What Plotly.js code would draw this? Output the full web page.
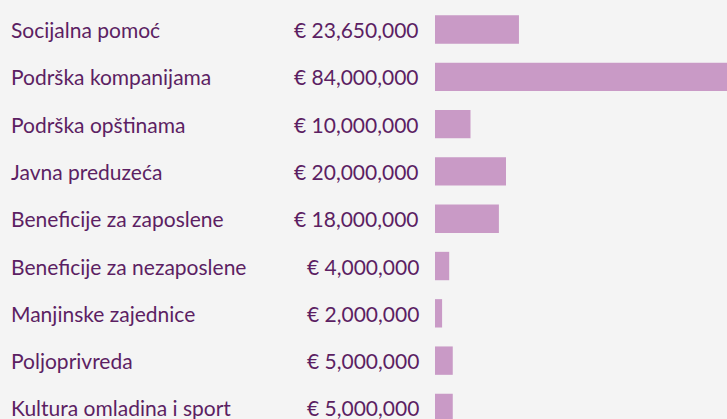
<!DOCTYPE html>
<html>
<head>
<meta charset="utf-8">
<script src="https://cdn.plot.ly/plotly-3.0.1.min.js"></script>
<style>
html,body{margin:0;padding:0;background:#f4f4f4;}
#chart{width:727px;height:419px;}
</style>
</head>
<body>
<div id="chart"></div>
<script>
const categories = [
  "Socijalna pomoć",
  "Podrška kompanijama",
  "Podrška opštinama",
  "Javna preduzeća",
  "Beneficije za zaposlene",
  "Beneficije za nezaposlene",
  "Manjinske zajednice",
  "Poljoprivreda",
  "Kultura omladina i sport"
];
const values = [23650000, 84000000, 10000000, 20000000, 18000000, 4000000, 2000000, 5000000, 5000000];
const valueLabels = ["€ 23,650,000", "€ 84,000,000", "€ 10,000,000", "€ 20,000,000", "€ 18,000,000", "€ 4,000,000", "€ 2,000,000", "€ 5,000,000", "€ 5,000,000"];

const textColor = "#5c1f63";
const font = "Lato, 'Open Sans', sans-serif";

const trace = {
  type: "bar",
  orientation: "h",
  x: values,
  y: categories,
  width: 0.6,
  marker: {color: "#c99ac6"},
  hoverinfo: "none"
};

const annotations = [];
categories.forEach((c, i) => {
  annotations.push({
    xref: "paper", yref: "y", x: 9/727, y: c, xanchor: "left", yanchor: "middle",
    text: c, showarrow: false, font: {family: font, size: 21, color: textColor}
  });
  annotations.push({
    xref: "paper", yref: "y", x: 421/727, y: c, xanchor: "right", yanchor: "middle",
    text: valueLabels[i], showarrow: false, font: {family: font, size: 21, color: textColor}
  });
});

const layout = {
  width: 727, height: 419,
  margin: {l: 0, r: 0, t: 0, b: 0, pad: 0},
  paper_bgcolor: "#f4f4f4",
  plot_bgcolor: "#f4f4f4",
  showlegend: false,
  xaxis: {domain: [435/727, 1], range: [0, 82250000], visible: false, fixedrange: true},
  yaxis: {type: "category", range: [8.234, -0.624], visible: false, fixedrange: true},
  annotations: annotations
};

Plotly.newPlot("chart", [trace], layout, {displayModeBar: false, staticPlot: true});
</script>
</body>
</html>
